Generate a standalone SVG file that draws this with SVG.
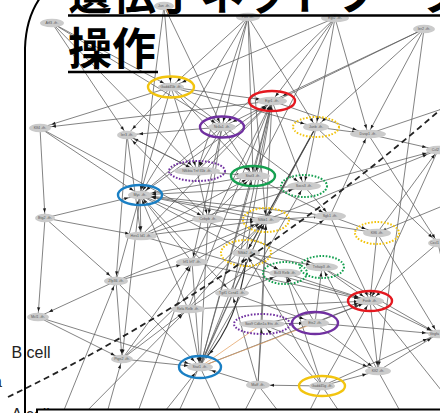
<svg xmlns="http://www.w3.org/2000/svg" width="440" height="413" viewBox="0 0 440 413">
<defs>
<style>
.e line,.e path{stroke:#5a5a5a;stroke-width:0.75;fill:none}
.s{marker-end:url(#as)}.m{marker-end:url(#am)}.f{marker-end:url(#af)}
.n{fill:#cbcbcb}
.node text{font-family:"Liberation Sans",Arial,sans-serif;font-size:3.6px;fill:#555;text-anchor:middle}
.node text.r{text-anchor:end}
.ring{fill:none;stroke-width:2.4}
.dot{fill:none;stroke-width:2;stroke-dasharray:1.6 1.6}
.yel{stroke:#f2c40f}.red{stroke:#e4181f}.pur{stroke:#7030a0}.grn{stroke:#15a050}.blu{stroke:#1a7fc4}
.title{font-family:"Noto Sans CJK JP","Noto Sans CJK SC",sans-serif;font-weight:700;font-size:44px;fill:#000}
.cell{font-family:"Liberation Sans",Arial,sans-serif;font-size:16px;fill:#222}
</style>
<marker id="as" viewBox="0 0 10 10" markerWidth="4" markerHeight="4" markerUnits="userSpaceOnUse" refX="24" refY="5" orient="auto" overflow="visible"><path d="M0,1 L10,5 L0,9z" fill="#1a1a1a"/></marker>
<marker id="am" viewBox="0 0 10 10" markerWidth="4" markerHeight="4" markerUnits="userSpaceOnUse" refX="30" refY="5" orient="auto" overflow="visible"><path d="M0,1 L10,5 L0,9z" fill="#1a1a1a"/></marker>
<marker id="af" viewBox="0 0 10 10" markerWidth="4" markerHeight="4" markerUnits="userSpaceOnUse" refX="40" refY="5" orient="auto" overflow="visible"><path d="M0,1 L10,5 L0,9z" fill="#1a1a1a"/></marker>
</defs>
<rect width="440" height="413" fill="#fff"/>
<g id="connectors" class="e">
<line class="f" x1="335" y1="18" x2="171" y2="87"/>
<line class="s" x1="164" y1="6" x2="222" y2="127"/>
<line class="s" x1="164" y1="6" x2="140" y2="195"/>
<line class="s" x1="248" y1="17" x2="140" y2="195"/>
<line class="s" x1="248" y1="17" x2="222" y2="127"/>
<line class="s" x1="248" y1="17" x2="253" y2="176"/>
<line class="s" x1="248" y1="17" x2="266" y2="220"/>
<line class="s" x1="248" y1="17" x2="197" y2="171"/>
<line class="s" x1="335" y1="18" x2="272" y2="101"/>
<line class="s" x1="335" y1="18" x2="316" y2="127"/>
<line class="s" x1="335" y1="18" x2="253" y2="176"/>
<line class="m" x1="335" y1="18" x2="222" y2="127"/>
<line class="f" x1="424" y1="29" x2="272" y2="101"/>
<line class="f" x1="424" y1="29" x2="222" y2="127"/>
<line class="s" x1="424" y1="29" x2="378" y2="371"/>
<line class="s" x1="52" y1="23" x2="127" y2="135"/>
<line class="m" x1="52" y1="23" x2="222" y2="127"/>
<line class="m" x1="52" y1="23" x2="197" y2="171"/>
<line class="f" x1="272" y1="101" x2="40" y2="128"/>
<line class="f" x1="171" y1="87" x2="40" y2="128"/>
<line class="m" x1="40" y1="128" x2="140" y2="195"/>
<line class="m" x1="40" y1="128" x2="208" y2="219"/>
<line class="f" x1="45" y1="218" x2="140" y2="195"/>
<line class="s" x1="140" y1="195" x2="141" y2="236"/>
<line class="s" x1="127" y1="135" x2="116" y2="281"/>
<line class="f" x1="272" y1="101" x2="368" y2="134"/>
<line class="f" x1="316" y1="127" x2="368" y2="134"/>
<line class="s" x1="330" y1="216" x2="368" y2="134"/>
<line class="m" x1="316" y1="127" x2="438" y2="243"/>
<line class="f" x1="304" y1="186" x2="438" y2="150"/>
<line class="f" x1="266" y1="220" x2="438" y2="150"/>
<line class="s" x1="377" y1="233" x2="438" y2="150"/>
<line class="s" x1="438" y1="150" x2="370" y2="301"/>
<line class="f" x1="330" y1="216" x2="377" y2="233"/>
<line class="m" x1="370" y1="301" x2="438" y2="334"/>
<line class="f" x1="315" y1="323" x2="438" y2="334"/>
<line class="m" x1="378" y1="371" x2="438" y2="334"/>
<line class="f" x1="322" y1="386" x2="438" y2="334"/>
<line class="s" x1="370" y1="301" x2="378" y2="371"/>
<line class="m" x1="315" y1="323" x2="378" y2="371"/>
<line class="f" x1="262" y1="324" x2="378" y2="371"/>
<line class="f" x1="322" y1="386" x2="378" y2="371"/>
<line class="f" x1="322" y1="386" x2="258" y2="385"/>
<line class="f" x1="122" y1="359" x2="200" y2="367"/>
<line class="f" x1="116" y1="281" x2="38" y2="317"/>
<line class="m" x1="38" y1="317" x2="122" y2="359"/>
<line class="m" x1="45" y1="218" x2="116" y2="281"/>
<line class="f" x1="171" y1="87" x2="272" y2="101"/>
<line class="m" x1="171" y1="87" x2="127" y2="135"/>
<line class="f" x1="171" y1="87" x2="316" y2="127"/>
<line class="m" x1="171" y1="87" x2="253" y2="176"/>
<line class="m" x1="171" y1="87" x2="304" y2="186"/>
<line class="f" x1="222" y1="127" x2="127" y2="135"/>
<line class="m" x1="197" y1="171" x2="127" y2="135"/>
<line class="m" x1="208" y1="219" x2="127" y2="135"/>
<line class="m" x1="140" y1="195" x2="272" y2="101"/>
<line class="m" x1="141" y1="236" x2="272" y2="101"/>
<line class="s" x1="192" y1="262" x2="272" y2="101"/>
<line class="s" x1="188" y1="309" x2="272" y2="101"/>
<line class="m" x1="197" y1="171" x2="272" y2="101"/>
<line class="s" x1="253" y1="176" x2="272" y2="101"/>
<line class="s" x1="266" y1="220" x2="272" y2="101"/>
<line class="s" x1="246" y1="253" x2="272" y2="101"/>
<line class="s" x1="200" y1="367" x2="272" y2="101"/>
<line class="s" x1="232" y1="293" x2="272" y2="101"/>
<line class="s" x1="272" y1="101" x2="304" y2="186"/>
<line class="s" x1="222" y1="127" x2="253" y2="176"/>
<line class="s" x1="222" y1="127" x2="197" y2="171"/>
<line class="m" x1="222" y1="127" x2="140" y2="195"/>
<line class="s" x1="222" y1="127" x2="208" y2="219"/>
<line class="s" x1="222" y1="127" x2="192" y2="262"/>
<line class="s" x1="316" y1="127" x2="266" y2="220"/>
<line class="s" x1="316" y1="127" x2="246" y2="253" style="stroke-width:1.3;stroke:#444"/>
<line class="s" x1="316" y1="127" x2="304" y2="186"/>
<line class="f" x1="253" y1="176" x2="140" y2="195"/>
<line class="f" x1="304" y1="186" x2="140" y2="195"/>
<line class="f" x1="266" y1="220" x2="140" y2="195"/>
<line class="f" x1="330" y1="216" x2="140" y2="195"/>
<line class="f" x1="377" y1="233" x2="140" y2="195"/>
<line class="s" x1="192" y1="262" x2="140" y2="195"/>
<line class="s" x1="188" y1="309" x2="140" y2="195"/>
<line class="s" x1="116" y1="281" x2="140" y2="195"/>
<line class="s" x1="140" y1="195" x2="122" y2="359"/>
<line class="m" x1="140" y1="195" x2="232" y2="293"/>
<line class="m" x1="140" y1="195" x2="285" y2="273"/>
<line class="f" x1="140" y1="195" x2="322" y2="267"/>
<line class="m" x1="141" y1="236" x2="253" y2="176"/>
<line class="f" x1="141" y1="236" x2="304" y2="186"/>
<line class="f" x1="141" y1="236" x2="266" y2="220"/>
<line class="f" x1="141" y1="236" x2="370" y2="301"/>
<line class="f" x1="208" y1="219" x2="266" y2="220"/>
<line class="m" x1="208" y1="219" x2="253" y2="176"/>
<line class="s" x1="208" y1="219" x2="200" y2="367"/>
<line class="m" x1="192" y1="262" x2="266" y2="220"/>
<line class="f" x1="192" y1="262" x2="370" y2="301"/>
<line class="s" x1="192" y1="262" x2="200" y2="367"/>
<line class="s" x1="188" y1="309" x2="200" y2="367"/>
<line class="s" x1="188" y1="309" x2="266" y2="220"/>
<line class="f" x1="188" y1="309" x2="370" y2="301"/>
<line class="m" x1="188" y1="309" x2="330" y2="216"/>
<line class="f" x1="116" y1="281" x2="266" y2="220"/>
<line class="f" x1="116" y1="281" x2="192" y2="262"/>
<line class="m" x1="116" y1="281" x2="200" y2="367"/>
<line class="m" x1="122" y1="359" x2="266" y2="220"/>
<line class="s" x1="122" y1="359" x2="192" y2="262"/>
<line class="m" x1="122" y1="359" x2="188" y2="309"/>
<line class="s" x1="200" y1="367" x2="266" y2="220"/>
<line class="s" x1="200" y1="367" x2="246" y2="253"/>
<line class="f" x1="200" y1="367" x2="370" y2="301"/>
<line class="s" x1="200" y1="367" x2="304" y2="186"/>
<line class="s" x1="200" y1="367" x2="253" y2="176"/>
<line class="f" x1="258" y1="385" x2="200" y2="367"/>
<line class="s" x1="258" y1="385" x2="262" y2="324"/>
<line class="s" x1="258" y1="385" x2="232" y2="293"/>
<line class="s" x1="258" y1="385" x2="266" y2="220"/>
<line class="s" x1="322" y1="386" x2="370" y2="301"/>
<line class="m" x1="322" y1="386" x2="262" y2="324"/>
<line class="s" x1="322" y1="386" x2="285" y2="273"/>
<line class="s" x1="322" y1="386" x2="246" y2="253"/>
<line class="s" x1="378" y1="371" x2="322" y2="267"/>
<line class="m" x1="315" y1="323" x2="370" y2="301"/>
<line class="f" x1="262" y1="324" x2="370" y2="301"/>
<line class="f" x1="262" y1="324" x2="315" y2="323"/>
<line class="s" x1="262" y1="324" x2="266" y2="220"/>
<line class="s" x1="315" y1="323" x2="322" y2="267"/>
<line class="s" x1="315" y1="323" x2="285" y2="273"/>
<line class="f" x1="285" y1="273" x2="370" y2="301"/>
<line class="m" x1="322" y1="267" x2="370" y2="301"/>
<line class="m" x1="322" y1="267" x2="438" y2="334"/>
<line class="s" x1="377" y1="233" x2="370" y2="301"/>
<line class="s" x1="377" y1="233" x2="438" y2="334"/>
<line class="m" x1="438" y1="243" x2="370" y2="301"/>
<line class="s" x1="330" y1="216" x2="370" y2="301"/>
<line class="f" x1="266" y1="220" x2="330" y2="216"/>
<line class="s" x1="304" y1="186" x2="330" y2="216"/>
<line class="m" x1="253" y1="176" x2="330" y2="216"/>
<line class="f" x1="246" y1="253" x2="322" y2="267"/>
<line class="m" x1="246" y1="253" x2="285" y2="273"/>
<line class="f" x1="232" y1="293" x2="285" y2="273"/>
<line class="f" x1="232" y1="293" x2="315" y2="323"/>
<line class="s" x1="197" y1="171" x2="208" y2="219"/>
<line class="f" x1="197" y1="171" x2="253" y2="176"/>
<line class="m" x1="127" y1="135" x2="197" y2="171"/>
<line class="s" x1="127" y1="135" x2="141" y2="236"/>
<line class="s" x1="40" y1="128" x2="45" y2="218"/>
<line class="s" x1="45" y1="218" x2="38" y2="317"/>
<line class="f" x1="45" y1="218" x2="141" y2="236"/>
<line class="f" x1="38" y1="317" x2="200" y2="367"/>
<line class="s" x1="116" y1="281" x2="122" y2="359"/>
<line class="f" x1="368" y1="134" x2="438" y2="150"/>
<line class="s" x1="368" y1="134" x2="438" y2="243"/>
<line class="s" x1="171" y1="87" x2="197" y2="171"/>
<line class="s" x1="171" y1="87" x2="140" y2="195"/>
<line class="s" x1="164" y1="6" x2="171" y2="87"/>
<line class="m" x1="52" y1="23" x2="171" y2="87"/>
<line class="m" x1="248" y1="17" x2="171" y2="87"/>
<line class="s" x1="424" y1="29" x2="368" y2="134"/>
<line class="m" x1="424" y1="29" x2="316" y2="127"/>
<line class="s" x1="335" y1="18" x2="368" y2="134"/>
<line class="s" x1="248" y1="17" x2="316" y2="127"/>
<line class="s" x1="60" y1="420" x2="116" y2="281"/>
<line class="m" x1="78" y1="420" x2="188" y2="309"/>
<line class="s" x1="105" y1="420" x2="122" y2="359"/>
<line class="s" x1="135" y1="420" x2="192" y2="262"/>
<line class="m" x1="158" y1="420" x2="200" y2="367"/>
<line class="s" x1="175" y1="420" x2="266" y2="220"/>
<line x1="200" y1="367" x2="225" y2="420"/>
<line x1="258" y1="385" x2="240" y2="420"/>
<line x1="258" y1="385" x2="285" y2="420"/>
<line x1="322" y1="386" x2="305" y2="420"/>
<line x1="322" y1="386" x2="345" y2="420"/>
<line x1="378" y1="371" x2="405" y2="420"/>
<line x1="370" y1="301" x2="445" y2="395"/>
<line class="s" x1="445" y1="205" x2="377" y2="233"/>
<line x1="368" y1="134" x2="445" y2="108"/>
<line x1="438" y1="243" x2="445" y2="275"/>
<path class="s" d="M246,262 Q238,320 206,358" style="stroke:#333;stroke-width:1.2"/>
<line x1="200" y1="367" x2="262" y2="324" style="stroke:#e3a060"/>
<line x1="200" y1="367" x2="315" y2="323" style="stroke:#e3a060"/>
</g>
<g id="nodes">
<g id="n1" class="node"><ellipse class="n" cx="52" cy="23" rx="12" ry="4.3"/><text x="52" y="24.3">Atf3 -ifr-</text></g>
<g id="n2" class="node"><ellipse class="n" cx="164" cy="6" rx="10" ry="4.3"/><text x="164" y="7.3">Jun -ifr-</text></g>
<g id="n3" class="node"><ellipse class="n" cx="248" cy="17" rx="12" ry="4.3"/><text x="248" y="18.3">Fos -ifr-</text></g>
<g id="n4" class="node"><ellipse class="n" cx="335" cy="18" rx="14" ry="4.3"/><text x="335" y="19.3">Egr2 -ifr-</text></g>
<g id="n5" class="node"><ellipse class="n" cx="424" cy="29" rx="11" ry="4.3"/><text x="424" y="30.3">Ier2 -ifr-</text></g>
<g id="n6" class="node"><ellipse class="n" cx="171" cy="87" rx="13" ry="4.3"/><text x="171" y="88.3">Gadd45b -ifr-</text><ellipse class="ring yel" cx="171" cy="87" rx="23" ry="10.5"/></g>
<g id="n7" class="node"><ellipse class="n" cx="222" cy="127" rx="14" ry="4.3"/><text x="222" y="128.3">Nr4a1 -ifr-</text><ellipse class="ring pur" cx="222" cy="127" rx="22" ry="10.5"/></g>
<g id="n8" class="node"><ellipse class="n" cx="272" cy="101" rx="15" ry="4.3"/><text x="272" y="102.3">Egr1 -ifr-</text><ellipse class="ring red" cx="272" cy="101" rx="23" ry="10"/></g>
<g id="n9" class="node"><ellipse class="n" cx="316" cy="127" rx="13" ry="4.3"/><text x="316" y="128.3">Junb -ifr-</text><ellipse class="dot yel" cx="316" cy="127" rx="23" ry="10"/></g>
<g id="n10" class="node"><ellipse class="n" cx="368" cy="134" rx="18" ry="4.3"/><text x="368" y="135.3">Dusp1 -ifr-</text></g>
<g id="n11" class="node"><ellipse class="n" cx="40" cy="128" rx="11" ry="4.3"/><text x="40" y="129.3">Klf4 -ifr-</text></g>
<g id="n12" class="node"><ellipse class="n" cx="127" cy="135" rx="10" ry="4.3"/><text x="127" y="136.3">Ier3 -ifr-</text></g>
<g id="n13" class="node"><ellipse class="n" cx="197" cy="171" rx="23" ry="4.3"/><text x="197" y="172.3">Nfkbia Tnf Il1b -ifr-</text><ellipse class="dot pur" cx="197" cy="171" rx="28" ry="10"/></g>
<g id="n14" class="node"><ellipse class="n" cx="253" cy="176" rx="17" ry="4.3"/><text x="253" y="177.3">Stat3 -ifr-</text><ellipse class="ring grn" cx="253" cy="176" rx="22" ry="10"/></g>
<g id="n15" class="node"><ellipse class="n" cx="304" cy="186" rx="17" ry="4.3"/><text x="304" y="187.3">Socs3 -ifr-</text><ellipse class="dot grn" cx="304" cy="186" rx="23" ry="11"/></g>
<g id="n16" class="node"><ellipse class="n" cx="140" cy="195" rx="12" ry="4.3"/><text x="140" y="196.3">Myc -ifr-</text><ellipse class="ring blu" cx="140" cy="195" rx="22" ry="10"/></g>
<g id="n17" class="node"><ellipse class="n" cx="438" cy="150" rx="12" ry="4.3"/><text class="r" x="439" y="151.3">Ccl2</text></g>
<g id="n18" class="node"><ellipse class="n" cx="45" cy="218" rx="10" ry="4.3"/><text x="45" y="219.3">Btg2 -ifr-</text></g>
<g id="n19" class="node"><ellipse class="n" cx="141" cy="236" rx="16" ry="4.3"/><text x="141" y="237.3">Hes1 Id1 -ifr-</text></g>
<g id="n20" class="node"><ellipse class="n" cx="208" cy="219" rx="16" ry="4.3"/><text x="208" y="220.3">Cebpb -ifr-</text></g>
<g id="n21" class="node"><ellipse class="n" cx="266" cy="220" rx="14" ry="4.3"/><text x="266" y="221.3">Nfkb1 -ifr-</text><ellipse class="dot yel" cx="266" cy="220" rx="23" ry="12"/></g>
<g id="n22" class="node"><ellipse class="n" cx="330" cy="216" rx="16" ry="4.3"/><text x="330" y="217.3">Sgk1 -ifr-</text></g>
<g id="n23" class="node"><ellipse class="n" cx="377" cy="233" rx="14" ry="4.3"/><text x="377" y="234.3">Klf6 -ifr-</text><ellipse class="dot yel" cx="377" cy="233" rx="22" ry="11"/></g>
<g id="n24" class="node"><ellipse class="n" cx="438" cy="243" rx="10" ry="4.3"/><text class="r" x="439" y="244.3">Cxcl1</text></g>
<g id="n25" class="node"><ellipse class="n" cx="192" cy="262" rx="16" ry="4.3"/><text x="192" y="263.3">Irf1 Irf7 -ifr-</text></g>
<g id="n26" class="node"><ellipse class="n" cx="116" cy="281" rx="12" ry="4.3"/><text x="116" y="282.3">Zfp36 -ifr-</text></g>
<g id="n27" class="node"><ellipse class="n" cx="38" cy="317" rx="11" ry="4.3"/><text x="38" y="318.3">Mcl1 -ifr-</text></g>
<g id="n28" class="node"><ellipse class="n" cx="188" cy="309" rx="17" ry="4.3"/><text x="188" y="310.3">Rela Relb -ifr-</text></g>
<g id="n29" class="node"><ellipse class="n" cx="122" cy="359" rx="11" ry="4.3"/><text x="122" y="360.3">Ptgs2 -ifr-</text></g>
<g id="n30" class="node"><ellipse class="n" cx="200" cy="367" rx="13" ry="4.3"/><text x="200" y="368.3">Stat1 -ifr-</text><ellipse class="ring blu" cx="200" cy="367" rx="21" ry="11"/></g>
<g id="n31" class="node"><ellipse class="n" cx="246" cy="253" rx="14" ry="4.3"/><text x="246" y="254.3">Nfkb2 -ifr-</text><ellipse class="dot yel" cx="246" cy="253" rx="25" ry="13"/></g>
<g id="n32" class="node"><ellipse class="n" cx="285" cy="273" rx="16" ry="4.3"/><text x="285" y="274.3">Bcl3 Relb -ifr-</text><ellipse class="dot grn" cx="285" cy="273" rx="22" ry="11"/></g>
<g id="n33" class="node"><ellipse class="n" cx="322" cy="267" rx="16" ry="4.3"/><text x="322" y="268.3">Tnfaip3 -ifr-</text><ellipse class="dot grn" cx="322" cy="267" rx="22" ry="11"/></g>
<g id="n34" class="node"><ellipse class="n" cx="232" cy="293" rx="17" ry="4.3"/><text x="232" y="294.3">Tgif1 Ccnd1 -ifr-</text></g>
<g id="n35" class="node"><ellipse class="n" cx="370" cy="301" rx="14" ry="4.3"/><text x="370" y="302.3">Fosb -ifr-</text><ellipse class="ring red" cx="370" cy="301" rx="22" ry="10"/></g>
<g id="n36" class="node"><ellipse class="n" cx="262" cy="324" rx="23" ry="4.3"/><text x="262" y="325.3">Sox9 Cdkn1a Ets -ifr-</text><ellipse class="dot pur" cx="262" cy="324" rx="28" ry="10"/></g>
<g id="n37" class="node"><ellipse class="n" cx="315" cy="323" rx="14" ry="4.3"/><text x="315" y="324.3">Ets2 -ifr-</text><ellipse class="ring pur" cx="315" cy="323" rx="23" ry="11"/></g>
<g id="n38" class="node"><ellipse class="n" cx="438" cy="334" rx="10" ry="4.3"/><text class="r" x="439" y="335.3">Vegfa</text></g>
<g id="n39" class="node"><ellipse class="n" cx="378" cy="371" rx="13" ry="4.3"/><text x="378" y="372.3">Klf2 -ifr-</text></g>
<g id="n40" class="node"><ellipse class="n" cx="258" cy="385" rx="12" ry="4.3"/><text x="258" y="386.3">Maff -ifr-</text></g>
<g id="n41" class="node"><ellipse class="n" cx="322" cy="386" rx="13" ry="4.3"/><text x="322" y="387.3">Gadd45g -ifr-</text><ellipse class="ring yel" cx="322" cy="386" rx="23" ry="10"/></g>
</g>
<path d="M8,397 Q236,287 440,110" fill="none" stroke="#222" stroke-width="1.8" stroke-dasharray="6 4"/>
<text class="cell" x="11.5" y="358">B cell</text>
<text class="cell" x="11.5" y="420">A cell</text>
<text class="cell" x="-7" y="387">a</text>
<path d="M40,-2 Q26,18 25,48 L25,415" fill="none" stroke="#000" stroke-width="2"/>
<rect x="37" y="409.5" width="410" height="20" fill="#fff" stroke="#000" stroke-width="2"/>
<g id="title">
<text class="title" x="68" y="10">遺伝子ネットワーク</text>
<text class="title" x="68" y="65">操作</text>
<line x1="68" y1="15.5" x2="440" y2="15.5" stroke="#000" stroke-width="2.5"/>
<line x1="68" y1="72" x2="158" y2="72" stroke="#000" stroke-width="2.5"/>
</g>
</svg>
